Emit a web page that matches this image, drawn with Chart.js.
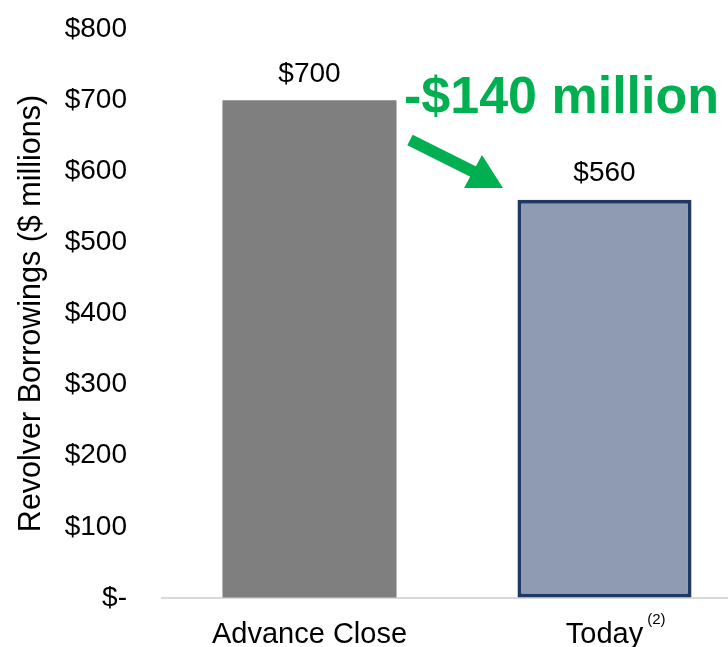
<!DOCTYPE html>
<html>
<head>
<meta charset="utf-8">
<script src="https://cdn.jsdelivr.net/npm/chart.js@4.4.1/dist/chart.umd.min.js"></script>
<style>
  html, body { margin: 0; padding: 0; background: #fff; overflow: hidden; }
  #wrap { width: 752px; height: 647px; }
</style>
</head>
<body>
<div id="wrap"><canvas id="revolverChart"></canvas></div>
<script>
// 데이터
var categories = ['Advance Close', 'Today'];
var borrowings = [700, 560];
var yTicks = [0, 100, 200, 300, 400, 500, 600, 700, 800];
var changeText = '-$140 million';
var footnote = '(2)';

var FONT = 'Arial, "Liberation Sans", sans-serif';

// 막대 위 값 + 화살표 + 각주
var extrasPlugin = {
  id: 'extras',
  afterDatasetsDraw: function(chart) {
    var ctx = chart.ctx;
    var meta = chart.getDatasetMeta(0);
    ctx.save();
    ctx.fillStyle = '#000';
    ctx.font = '28px ' + FONT;
    ctx.textAlign = 'center';
    ctx.textBaseline = 'middle';
    meta.data.forEach(function(bar, i) {
      ctx.fillText('$' + borrowings[i], bar.x, bar.y - 26);
    });

    // 변화량 텍스트
    ctx.fillStyle = '#00B050';
    ctx.font = 'bold 52px ' + FONT;
    ctx.textAlign = 'left';
    ctx.fillText(changeText, 404, 99);

    // 화살표
    ctx.strokeStyle = '#00B050';
    ctx.lineWidth = 12;
    ctx.beginPath();
    ctx.moveTo(410, 140);
    ctx.lineTo(474, 172);
    ctx.stroke();
    ctx.beginPath();
    ctx.moveTo(503, 188);
    ctx.lineTo(464, 188);
    ctx.lineTo(482, 155);
    ctx.closePath();
    ctx.fill();

    // Today 각주
    var xs = chart.scales.x;
    var px = xs.getPixelForValue(1);
    ctx.font = '29px ' + FONT;
    var w = ctx.measureText(categories[1]).width;
    ctx.fillStyle = '#000';
    ctx.font = '15px ' + FONT;
    ctx.textAlign = 'left';
    ctx.fillText(footnote, px + w / 2 + 4, 620);
    ctx.restore();
  }
};

new Chart(document.getElementById('revolverChart'), {
  type: 'bar',
  data: {
    labels: categories,
    datasets: [{
      data: borrowings,
      backgroundColor: ['#7F7F7F', '#8E9BB3'],
      borderColor: ['#7F7F7F', '#1F3864'],
      borderWidth: [0, 4],
      borderSkipped: false,
      barPercentage: 0.59,
      categoryPercentage: 1
    }]
  },
  options: {
    responsive: true,
    maintainAspectRatio: false,
    animation: false,
    layout: { padding: { top: 29, right: 0, bottom: 0, left: 0 } },
    plugins: {
      legend: { display: false },
      tooltip: { enabled: false }
    },
    scales: {
      x: {
        grid: { display: false, drawTicks: false },
        border: { display: true, color: '#D9D9D9', width: 2 },
        ticks: {
          color: '#000',
          font: { size: 29, family: FONT },
          padding: 20,
          maxRotation: 0
        },
        afterFit: function(scale) { scale.height = 49; }
      },
      y: {
        min: 0,
        max: 800,
        afterBuildTicks: function(scale) {
          scale.ticks = yTicks.map(function(v) { return { value: v }; });
        },
        grid: {
          display: true,
          drawOnChartArea: false,
          drawTicks: true,
          tickLength: 31,
          tickColor: 'rgba(0,0,0,0)'
        },
        border: { display: false },
        ticks: {
          color: '#000',
          font: { size: 28, family: FONT },
          padding: 4,
          callback: function(v) { return v === 0 ? '$-' : '$' + v; }
        },
        title: {
          display: true,
          text: 'Revolver Borrowings ($ millions)',
          color: '#000',
          font: { size: 30.5, family: FONT },
          padding: { top: 13, bottom: 0 }
        },
        afterFit: function(scale) { scale.width = 162; }
      }
    }
  },
  plugins: [extrasPlugin]
});
</script>
</body>
</html>
